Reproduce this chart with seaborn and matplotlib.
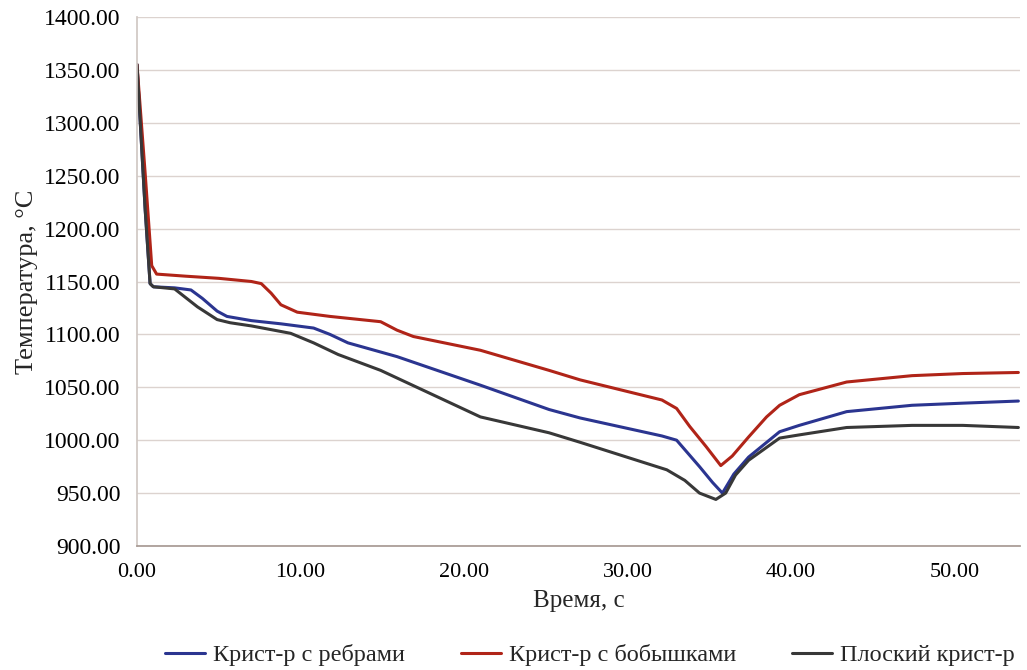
import pandas as pd
import matplotlib.pyplot as plt
import seaborn as sns
from matplotlib.ticker import FormatStrFormatter, MultipleLocator

# Series (time in s, temperature in °C)
t_ribs = [0, 0.5, 0.8, 1.0, 2.3, 3.3, 4.0, 4.9, 5.5, 7.0, 8.8, 10.8, 11.8, 12.9,
          15.9, 21.0, 25.2, 27.1, 32.1, 33.0, 34.4, 35.2, 35.8, 36.5, 37.4, 39.3,
          40.5, 43.4, 47.4, 50.5, 53.9]
T_ribs = [1355, 1218, 1148, 1145, 1144, 1142, 1134, 1122, 1117, 1113, 1110, 1106, 1100, 1092,
          1079, 1052, 1029, 1021, 1004, 1000, 975, 960, 950, 968, 984, 1008,
          1014, 1027, 1033, 1035, 1037]

t_boss = [0, 0.5, 0.9, 1.2, 3.0, 5.0, 7.0, 7.6, 8.2, 8.8, 9.8, 11.8, 14.9, 15.9, 16.9,
          21.0, 25.2, 27.1, 32.1, 33.0, 33.8, 34.8, 35.7, 36.4, 37.4, 38.5, 39.3, 40.5,
          43.4, 47.4, 50.5, 53.9]
T_boss = [1355, 1252, 1165, 1157, 1155, 1153, 1150, 1148, 1139, 1128, 1121, 1117, 1112, 1104, 1098,
          1085, 1066, 1057, 1038, 1030, 1013, 994, 976, 985, 1003, 1022, 1033, 1043,
          1055, 1061, 1063, 1064]

t_flat = [0, 0.5, 0.8, 1.0, 2.3, 3.7, 4.9, 5.7, 7.0, 9.4, 10.8, 12.3, 14.9, 21.0,
          25.2, 27.1, 32.4, 33.5, 34.4, 35.4, 36.0, 36.6, 37.4, 39.3, 40.5, 43.4,
          47.4, 50.5, 53.9]
T_flat = [1355, 1218, 1148, 1145, 1143, 1126, 1114, 1111, 1108, 1101, 1092, 1081, 1066, 1022,
          1007, 998, 972, 962, 950, 944, 950, 967, 981, 1002, 1005, 1012,
          1014, 1014, 1012]

labels = ['Крист-р с ребрами', 'Крист-р с бобышками', 'Плоский крист-р']
colors = ['#2b3590', '#b02418', '#383838']

df = pd.concat([
    pd.DataFrame({'t': t_ribs, 'T': T_ribs, 'series': labels[0]}),
    pd.DataFrame({'t': t_boss, 'T': T_boss, 'series': labels[1]}),
    pd.DataFrame({'t': t_flat, 'T': T_flat, 'series': labels[2]}),
], ignore_index=True)

sns.set_theme(style='white')
plt.rcParams['font.family'] = ['Liberation Serif', 'DejaVu Serif']

fig = plt.figure(figsize=(10.27, 6.70), dpi=100)
ax = fig.add_axes([0.1334, 0.1851, 0.8598, 0.7895])

sns.lineplot(data=df, x='t', y='T', hue='series', hue_order=labels,
             palette=colors, linewidth=2.2, sort=False, estimator=None, ax=ax)

ax.set_xlim(0, 54)
ax.set_ylim(900, 1400)
ax.xaxis.set_major_locator(MultipleLocator(10))
ax.yaxis.set_major_locator(MultipleLocator(50))
ax.xaxis.set_major_formatter(FormatStrFormatter('%.2f'))
ax.yaxis.set_major_formatter(FormatStrFormatter('%.2f'))
ax.grid(axis='y', color='#dcd3cf', linewidth=1.0)
ax.tick_params(axis='x', length=0, labelsize=16, pad=12, colors='black')
ax.tick_params(axis='y', length=0, labelsize=17, pad=12, colors='black')

for side in ['top', 'right']:
    ax.spines[side].set_visible(False)
ax.spines['left'].set_color('#d0c8c4')
ax.spines['bottom'].set_color('#a89a94')

ax.set_xlabel('Время, с', fontsize=18, labelpad=6)
ax.set_ylabel('Температура, °C', fontsize=19, labelpad=4)

ax.legend_.remove()
handles, _ = ax.get_legend_handles_labels()
fig.legend(handles, labels, loc='center', bbox_to_anchor=(0.5745, 0.022), ncol=3,
           frameon=False, fontsize=17.5, handlelength=1.65, handletextpad=0.33,
           columnspacing=2.3)

fig.savefig('out.png', dpi=100)
